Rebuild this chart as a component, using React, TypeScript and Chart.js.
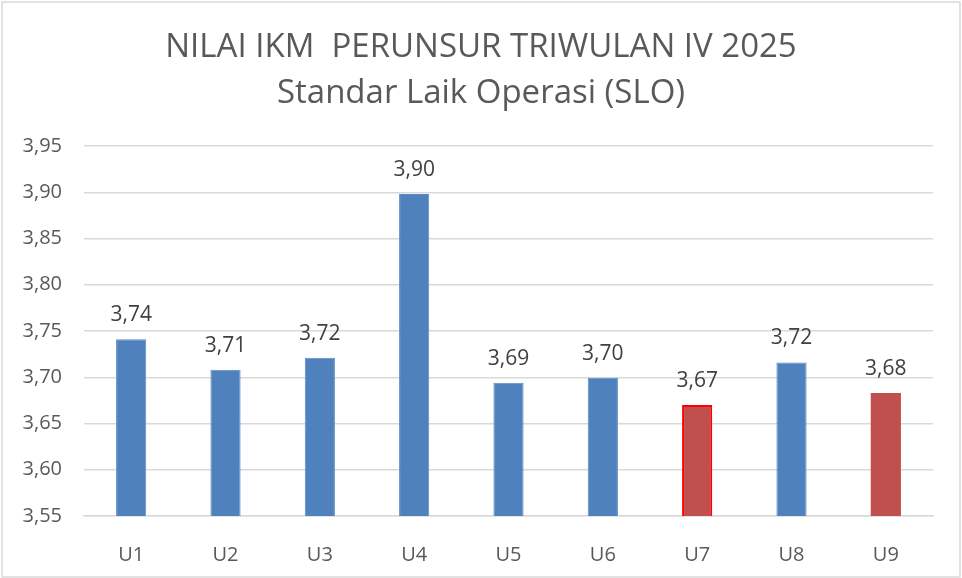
import React, { useEffect, useRef } from "react";
import { Chart, registerables } from "chart.js";

Chart.register(...registerables);

const titleLines = ["NILAI IKM  PERUNSUR TRIWULAN IV 2025", "Standar Laik Operasi (SLO)"];
const categories = ["U1", "U2", "U3", "U4", "U5", "U6", "U7", "U8", "U9"];
const values = [3.741, 3.708, 3.721, 3.898, 3.694, 3.6995, 3.67, 3.716, 3.683];
const valueLabels = ["3,74", "3,71", "3,72", "3,90", "3,69", "3,70", "3,67", "3,72", "3,68"];
const fillColors = ["#4F81BD", "#4F81BD", "#4F81BD", "#4F81BD", "#4F81BD", "#4F81BD", "#C0504D", "#4F81BD", "#C0504D"];
const edgeColors = ["#5B8CC6", "#5B8CC6", "#5B8CC6", "#5B8CC6", "#5B8CC6", "#5B8CC6", "#FF0000", "#5B8CC6", "#C0504D"];
const edgeWidths = [1, 1, 1, 1, 1, 1, 2, 1, 0];
const yMin = 3.55;
const yMax = 3.95;
const yStep = 0.05;

const FONT = "'Open Sans', 'DejaVu Sans', sans-serif";

const framePlugin = {
  id: "frame",
  beforeDraw(chart: any) {
    const ctx = chart.ctx;
    ctx.save();
    ctx.fillStyle = "#FFFFFF";
    ctx.fillRect(0, 0, chart.width, chart.height);
    ctx.strokeStyle = "#D9D9D9";
    ctx.lineWidth = 1.5;
    ctx.strokeRect(2, 2, chart.width - 4, chart.height - 3);
    ctx.restore();
  },
};

const valueLabelPlugin = {
  id: "valueLabels",
  afterDatasetsDraw(chart: any) {
    const ctx = chart.ctx;
    const meta = chart.getDatasetMeta(0);
    ctx.save();
    ctx.font = `21px ${FONT}`;
    ctx.fillStyle = "#404040";
    ctx.textAlign = "center";
    ctx.textBaseline = "alphabetic";
    meta.data.forEach((bar: any, i: number) => {
      ctx.fillText(valueLabels[i], bar.x, bar.y - 18);
    });
    ctx.restore();
  },
};

export default function App() {
  const canvasRef = useRef<HTMLCanvasElement | null>(null);

  useEffect(() => {
    document.body.style.margin = "0";
    const canvas = canvasRef.current;
    if (!canvas) return;
    const chart = new Chart(canvas, {
      type: "bar",
      data: {
        labels: categories,
        datasets: [
          {
            data: values,
            backgroundColor: fillColors,
            borderColor: edgeColors,
            borderWidth: edgeWidths,
            barPercentage: 0.32,
            categoryPercentage: 1,
          },
        ],
      },
      options: {
        animation: false,
        responsive: false,
        maintainAspectRatio: false,
        layout: { padding: { left: 0, right: 0, top: 0, bottom: 0 } },
        plugins: {
          legend: { display: false },
          tooltip: { enabled: false },
          title: {
            display: true,
            text: titleLines,
            color: "#595959",
            font: { family: FONT, size: 33, weight: "normal", lineHeight: 1.394 },
            padding: { top: 25, bottom: 29 },
          },
        },
        scales: {
          x: {
            grid: { display: false },
            border: { display: true, color: "#D9D9D9", width: 1.5 },
            ticks: { color: "#595959", font: { family: FONT, size: 20 }, padding: 19 },
            afterFit(scale: any) {
              scale.height = 62;
            },
          },
          y: {
            min: yMin,
            max: yMax,
            grid: { color: "#D9D9D9", lineWidth: 1.5, drawTicks: false },
            border: { display: false },
            ticks: {
              stepSize: yStep,
              color: "#595959",
              font: { family: FONT, size: 20 },
              padding: 22,
              callback: (v: any) => Number(v).toFixed(2).replace(".", ","),
            },
            afterFit(scale: any) {
              scale.width = 84;
            },
          },
          yRight: {
            position: "right",
            min: yMin,
            max: yMax,
            grid: { display: false, drawTicks: false },
            border: { display: false },
            ticks: { display: false },
            afterFit(scale: any) {
              scale.width = 29;
            },
          },
        },
      },
      plugins: [framePlugin, valueLabelPlugin],
    });
    return () => chart.destroy();
  }, []);

  return (
    <div style={{ width: 962, height: 578 }}>
      <canvas ref={canvasRef} width={962} height={578} style={{ display: "block" }} />
    </div>
  );
}
